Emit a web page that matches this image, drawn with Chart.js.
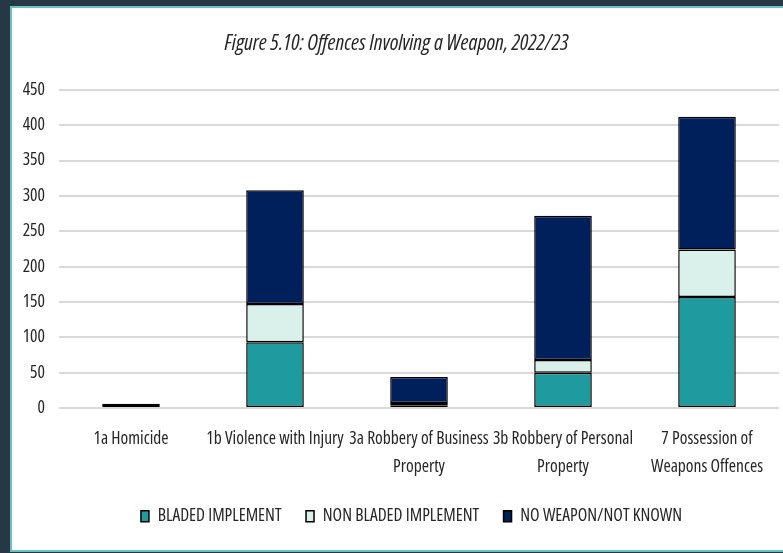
<!DOCTYPE html>
<html>
<head>
<meta charset="utf-8">
<script src="https://cdn.jsdelivr.net/npm/chart.js@4.4.1/dist/chart.umd.min.js"></script>
<style>
  body { margin: 0; background: #263846; width: 783px; height: 553px; overflow: hidden; position: relative; }
  #frame { position: absolute; left: 10px; top: 6px; width: 790px; height: 542px; background: #fff; border: 2px solid #6cc2c0; }
  #wrap { position: absolute; left: 0; top: 0; width: 783px; height: 553px; }
</style>
</head>
<body>
<div id="frame"></div>
<div id="wrap"><canvas id="chart"></canvas></div>
<script>
// data
const categories = [
    "1a Homicide",
    "1b Violence with Injury",
    ["3a Robbery of Business", "Property"],
    ["3b Robbery of Personal", "Property"],
    ["7 Possession of", "Weapons Offences"]
];
const bladed = [3, 93, 4, 50, 157];
const nonBladed = [0, 54, 3, 18, 67];
const noWeapon = [3, 161, 37, 204, 188];
const yTicks = [0, 50, 100, 150, 200, 250, 300, 350, 400, 450];

// condensed Open Sans is the closest thing to the narrow Office font
const FAMILY = "'Open Sans', sans-serif";
const NARROW = "condensed";
const TEXT = "#262626";

function barSet(label, data, color) {
    return {
        label: label,
        data: data,
        backgroundColor: color,
        borderColor: "#000000",
        borderWidth: 1.5,
        borderSkipped: false,
        categoryPercentage: 1,
        barPercentage: 0.4
    };
}

// legend sits a little right of centre in the original
const legendShift = {
    id: "legendShift",
    afterLayout(chart) {
        chart.legend.left += 15;
        chart.legend.right += 15;
    }
};

const ctx = document.getElementById("chart").getContext("2d");
new Chart(ctx, {
    type: "bar",
    data: {
        labels: categories,
        datasets: [
            barSet("BLADED IMPLEMENT", bladed, "#1f9ba0"),
            barSet("NON BLADED IMPLEMENT", nonBladed, "#daf0ea"),
            barSet("NO WEAPON/NOT KNOWN", noWeapon, "#00205b")
        ]
    },
    plugins: [legendShift],
    options: {
        responsive: true,
        maintainAspectRatio: false,
        animation: false,
        layout: { padding: { left: 14, right: 4, top: 20, bottom: 18 } },
        plugins: {
            title: {
                display: true,
                text: "Figure 5.10: Offences Involving a Weapon, 2022/23",
                color: TEXT,
                font: { family: FAMILY, size: 21.5, style: "italic", weight: NARROW, lineHeight: 1.2 },
                padding: { top: 10.5, bottom: 33.5 }
            },
            legend: {
                position: "bottom",
                labels: {
                    color: TEXT,
                    font: { family: FAMILY, size: 17.5, weight: NARROW },
                    boxWidth: 8,
                    boxHeight: 11,
                    padding: 24.5
                }
            },
            tooltip: { enabled: false }
        },
        scales: {
            x: {
                stacked: true,
                afterFit: function(scale) { scale.height = 75; },
                grid: { display: false, drawTicks: false },
                border: { display: false },
                ticks: {
                    color: TEXT,
                    font: { family: FAMILY, size: 17.5, weight: NARROW, lineHeight: 1.6 },
                    maxRotation: 0,
                    autoSkip: false,
                    padding: 17
                }
            },
            y: {
                stacked: true,
                min: 0,
                max: 450,
                afterBuildTicks: function(scale) {
                    scale.ticks = yTicks.map(v => ({ value: v }));
                },
                afterFit: function(scale) { scale.width = 45; },
                grid: { color: "#d9d9d9", lineWidth: 2, drawTicks: false },
                border: { display: false },
                ticks: {
                    color: TEXT,
                    font: { family: FAMILY, size: 17.5, weight: NARROW },
                    padding: 14
                }
            }
        }
    }
});
</script>
</body>
</html>
